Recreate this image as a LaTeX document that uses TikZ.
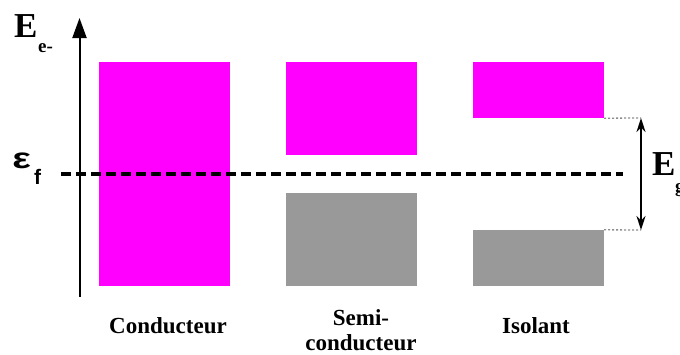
\documentclass[tikz,border=0pt]{standalone}
\usepackage{fontspec}
\setmainfont{Liberation Serif}
\newfontfamily\symfont{Liberation Sans}
\usepackage{tikz}
\usetikzlibrary{positioning,arrows.meta}
\usepackage{xcolor}
\definecolor{bandmag}{HTML}{FF00FF}
\definecolor{bandgray}{HTML}{999999}

\begin{document}
\begin{tikzpicture}[x=1pt, y=-1pt,
    band/.style={inner sep=0pt, minimum width=131pt},
    lbl/.style={font=\bfseries\fontsize{23}{25}\selectfont, align=center},
    guide/.style={line width=1.3pt, gray!90, dash pattern=on 2pt off 2pt}]
    \useasboundingbox (0,0) rectangle (680,354);

    % Energy axis
    \coordinate (O) at (79.5,297);
    \coordinate (T) at (79.5,18);
    \draw[line width=2pt, -{Triangle[length=20pt,width=14pt]}] (O) -- (T);
    \node[anchor=base west, font=\bfseries\fontsize{35}{35}\selectfont, inner sep=0pt] (E) at (14,37) {E};
    \node[anchor=base west, font=\bfseries\fontsize{19}{19}\selectfont, inner sep=0pt] (Ee) at (38,52) {e-};

    % Conducteur
    \node[band, fill=bandmag, minimum height=224pt] (C) at (164.5,174) {};
    \node[lbl, anchor=base] (Clbl) at (168,333) {Conducteur};

    % Semi-conducteur
    \node[band, fill=bandmag, minimum height=93pt] (SH) at (351.5,108.5) {};
    \node[band, fill=bandgray, minimum height=93pt] (SB) at (351.5,239.5) {};
    \node[lbl, anchor=base] (Slbl) at (361,350) {Semi-\\conducteur};

    % Isolant
    \node[band, fill=bandmag, minimum height=56pt] (IH) at (538.5,90) {};
    \node[band, fill=bandgray, minimum height=56pt] (IB) at (538.5,258) {};
    \node[lbl, anchor=base] (Ilbl) at (536,333) {Isolant};

    % Fermi level
    \coordinate (fL) at (61,174);
    \coordinate (fR) at (623,174);
    \draw[line width=4.5pt, dash pattern=on 10pt off 5pt] (fL) -- (fR);
    \node[anchor=base west, font=\symfont\bfseries\fontsize{29}{29}\selectfont, inner sep=0pt, xscale=1.35] (eps) at (12,168) {ε};
    \node[anchor=base west, font=\symfont\bfseries\fontsize{21}{21}\selectfont, inner sep=0pt] (epsf) at (34,184) {f};

    % Gap
    \coordinate (g1) at (641,118);
    \coordinate (g2) at (641,230);
    \draw[guide] (IH.south east) -- (g1);
    \draw[guide] (IB.north east) -- (g2);
    \draw[line width=2pt, {Stealth[length=14pt,width=9pt]}-{Stealth[length=14pt,width=9pt]}] (g1) -- (g2);
    \node[anchor=base west, font=\bfseries\fontsize{35}{35}\selectfont, inner sep=0pt] (Eg) at (652,175) {E};
    \node[anchor=base west, font=\bfseries\fontsize{19}{19}\selectfont, inner sep=0pt] (Egg) at (675,192) {g};
\end{tikzpicture}
\end{document}
